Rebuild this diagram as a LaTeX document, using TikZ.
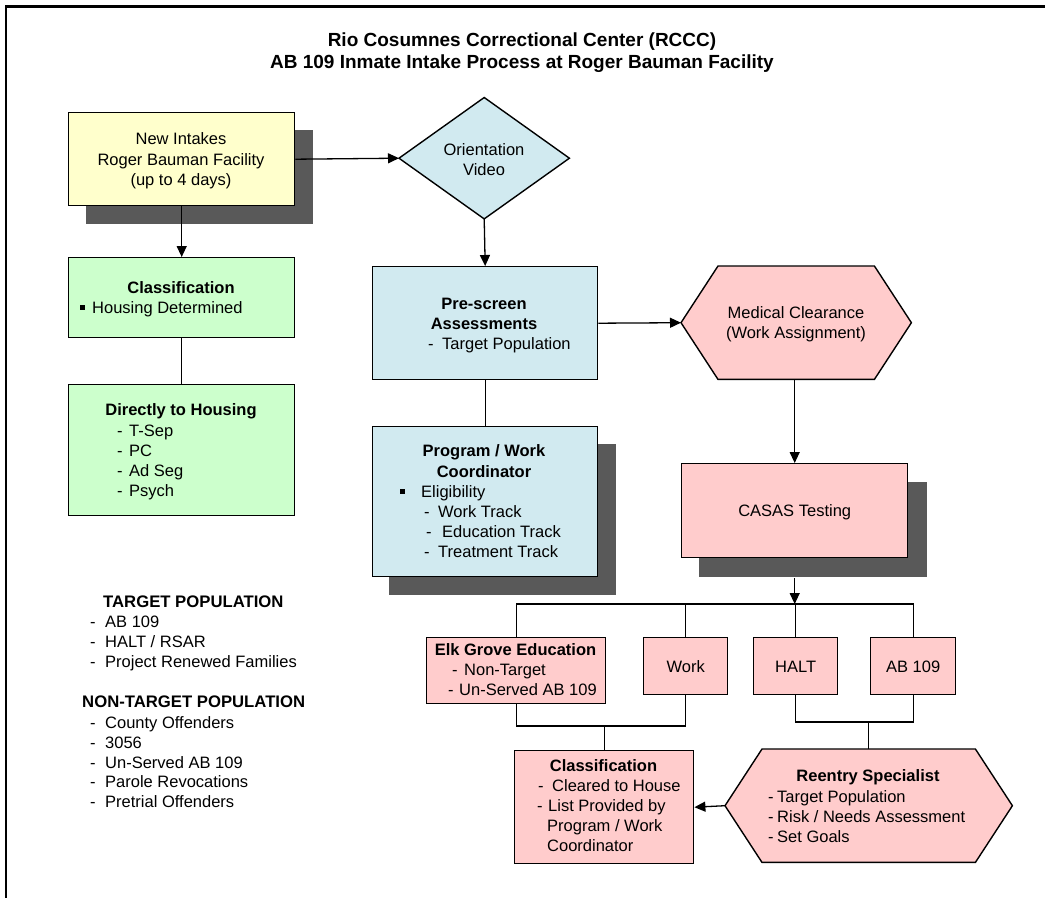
\documentclass[tikz,border=0pt]{standalone}
\usepackage{fontspec}
\setmainfont{Liberation Sans}
\usetikzlibrary{arrows.meta,calc}
\definecolor{shd}{RGB}{89,89,89}
\definecolor{yel}{RGB}{255,255,204}
\definecolor{grn}{RGB}{204,255,204}
\definecolor{blu}{RGB}{209,234,240}
\definecolor{pnk}{RGB}{255,204,204}
\newcommand\fs{\fontsize{16.5}{20}\selectfont}
\newcommand\tlft[4]{\node[txt,anchor=base west] (#1) at (#2,#3) {#4};}
\newcommand\tctr[4]{\node[txt,anchor=base] (#1) at (#2,#3) {#4};}
\newcommand\dsh[1]{\makebox[#1pt][l]{-}}
\newcommand\blt{\rule[3.5pt]{4.5pt}{4.5pt}}
\begin{document}
\begin{tikzpicture}[x=1pt,y=-1pt,
  box/.style={draw=black,line width=1.4pt,rectangle,inner sep=0pt,anchor=north west},
  ghost/.style={rectangle,inner sep=0pt,anchor=north west},
  shp/.style={draw=black,line width=1.4pt,line join=miter},
  txt/.style={inner sep=0pt,font=\fs},
  one/.style={font=\fs,text height=11.8pt,text depth=0pt},
  ln/.style={draw=black,line width=1.3pt},
  arr/.style={ln,-{Triangle[length=11pt,width=10pt]}}]
\useasboundingbox (0,0) rectangle (1045,898);
% frame
\draw[line width=2pt] (6,5) -- (6,898);
\draw[line width=2.7pt] (5,6.3) -- (1045,6.3);
% shadows
\fill[shd] (86,130) rectangle (313,224);
\fill[shd] (389,444) rectangle (616,595);
\fill[shd] (699,482) rectangle (927,577);
% boxes
\node[box,fill=yel,minimum width=226pt,minimum height=93pt] (ni) at (68,112) {};
\node[box,fill=grn,minimum width=226pt,minimum height=80pt] (cl) at (68,257) {};
\node[box,fill=grn,minimum width=226pt,minimum height=131pt] (dh) at (68,384) {};
\node[box,fill=blu,minimum width=225pt,minimum height=113pt] (ps) at (372,266) {};
\node[box,fill=blu,minimum width=225pt,minimum height=150pt] (pw) at (372,426) {};
\node[box,fill=pnk,minimum width=226pt,minimum height=94pt,one] (cas) at (681,463) {CASAS Testing};
\node[box,fill=pnk,minimum width=179pt,minimum height=66pt] (elk) at (426,637) {};
\node[box,fill=pnk,minimum width=84pt,minimum height=57pt,one] (wk) at (643,637) {Work};
\node[box,fill=pnk,minimum width=84pt,minimum height=57pt,one] (halt) at (753,637) {HALT};
\node[box,fill=pnk,minimum width=85pt,minimum height=57pt,one] (ab) at (870,637) {AB 109};
\node[box,fill=pnk,minimum width=179pt,minimum height=113pt] (cl2) at (514,750) {};
% diamond and hexagons
\node[ghost,minimum width=170pt,minimum height=121pt] (ov) at (399,97.5) {};
\draw[shp,fill=blu] (ov.west) -- (ov.north) -- (ov.east) -- (ov.south) -- cycle;
\node[ghost,minimum width=230pt,minimum height=113pt] (med) at (681,266) {};
\draw[shp,fill=pnk] (med.west) -- ($(med.north west)+(37,0)$) -- ($(med.north east)+(-37,0)$) -- (med.east) -- ($(med.south east)+(-37,0)$) -- ($(med.south west)+(37,0)$) -- cycle;
\node[ghost,minimum width=287pt,minimum height=113pt] (re) at (725,749) {};
\draw[shp,fill=pnk] (re.west) -- ($(re.north west)+(37,0)$) -- ($(re.north east)+(-37,0)$) -- (re.east) -- ($(re.south east)+(-37,0)$) -- ($(re.south west)+(37,0)$) -- cycle;
% connectors
\draw[arr] (ni.east) -- (ov.west);
\draw[arr] (ni.south) -- (cl.north);
\draw[ln] (cl.south) -- (dh.north);
\draw[arr] (ov.south) -- (ps.north);
\draw[arr] (ps.east) -- (med.west);
\draw[ln] (ps.south) -- (pw.north);
\draw[arr] (cas.north |- med.south) -- (cas.north);
\coordinate (casout) at ($(cas.south)+(0,20)$);
\coordinate (busy) at (0,604);
\coordinate (j1) at (0,726);
\coordinate (j2) at (0,722);
\draw[ln] (elk.north) -- (elk.north |- busy) -- (ab.north |- busy) -- (ab.north);
\draw[ln] (wk.north) -- (wk.north |- busy);
\draw[ln] (halt.north) -- (halt.north |- busy);
\draw[arr] (casout) -- (cas.south |- busy);
\draw[ln] (elk.south) -- (elk.south |- j1) -- (wk.south |- j1) -- (wk.south);
\draw[ln] (cl2.north |- j1) -- (cl2.north);
\draw[ln] (halt.south) -- (halt.south |- j2) -- (ab.south |- j2) -- (ab.south);
\draw[ln] (re.north |- j2) -- (re.north);
\draw[arr] (re.west) -- (cl2.east);
% title
\tctr{ti1}{522}{46}{\bfseries\fontsize{19}{22}\selectfont Rio Cosumnes Correctional Center (RCCC)}
\tctr{ti2}{522}{68}{\bfseries\fontsize{19}{22}\selectfont AB 109 Inmate Intake Process at Roger Bauman Facility}
% new intakes
\tctr{n1}{181}{144}{New Intakes}
\tctr{n2}{181}{165}{Roger Bauman Facility}
\tctr{n3}{181}{185}{(up to 4 days)}
% orientation
\tctr{o1}{484}{155}{Orientation}
\tctr{o2}{484}{175}{Video}
% classification
\tctr{c1}{181}{293}{\bfseries Classification}
\tlft{c2}{80}{313}{\makebox[12pt][l]{\blt}Housing Determined}
% directly to housing
\tctr{d1}{181}{415}{\bfseries Directly to Housing}
\tlft{d2}{117}{436}{\dsh{12}T-Sep}
\tlft{d3}{117}{456}{\dsh{12}PC}
\tlft{d4}{117}{476}{\dsh{12}Ad Seg}
\tlft{d5}{117}{496}{\dsh{12}Psych}
% pre-screen
\tctr{p1}{484}{309}{\bfseries Pre-screen}
\tctr{p2}{484}{329}{\bfseries Assessments}
\tlft{p3}{428}{349}{\dsh{14}Target Population}
% program / work
\tctr{w1}{484}{456}{\bfseries Program / Work}
\tctr{w2}{484}{477}{\bfseries Coordinator}
\tlft{w3}{400}{497}{\makebox[21pt][l]{\blt}Eligibility}
\tlft{w4}{424}{517}{\dsh{14}Work Track}
\tlft{w5}{426}{537}{\dsh{16}Education Track}
\tlft{w6}{424}{557}{\dsh{14}Treatment Track}
% medical
\tctr{m1}{796}{318}{Medical Clearance}
\tctr{m2}{796}{338}{(Work Assignment)}
% elk grove
\tctr{e1}{515.5}{655}{\bfseries Elk Grove Education}
\tlft{e2}{452}{675}{\dsh{12}Non-Target}
\tlft{e3}{448}{695}{\dsh{11}Un-Served AB 109}
% classification 2
\tctr{k1}{603.5}{771}{\bfseries Classification}
\tlft{k2}{538}{791}{\dsh{14}Cleared to House}
\tlft{k3}{537}{811}{\dsh{11}List Provided by}
\tlft{k4}{547}{831}{Program / Work}
\tlft{k5}{547}{851}{Coordinator}
% reentry
\tctr{r1}{868}{781}{\bfseries Reentry Specialist}
\tlft{r2}{768}{802}{\dsh{9}Target Population}
\tlft{r3}{768}{822}{\dsh{9}Risk / Needs Assessment}
\tlft{r4}{768}{842}{\dsh{9}Set Goals}
% legend
\tlft{g1}{103}{607}{\bfseries\fontsize{16.7}{20}\selectfont TARGET POPULATION}
\tlft{g2}{90}{627}{\dsh{15}AB 109}
\tlft{g3}{90}{647}{\dsh{15}HALT / RSAR}
\tlft{g4}{90}{667}{\dsh{15}Project Renewed Families}
\tlft{g5}{82}{707}{\bfseries\fontsize{16.7}{20}\selectfont NON-TARGET POPULATION}
\tlft{g6}{90}{728}{\dsh{15}County Offenders}
\tlft{g7}{90}{748}{\dsh{15}3056}
\tlft{g8}{90}{768}{\dsh{15}Un-Served AB 109}
\tlft{g9}{90}{787}{\dsh{15}Parole Revocations}
\tlft{g10}{90}{807}{\dsh{15}Pretrial Offenders}
\end{tikzpicture}
\end{document}
